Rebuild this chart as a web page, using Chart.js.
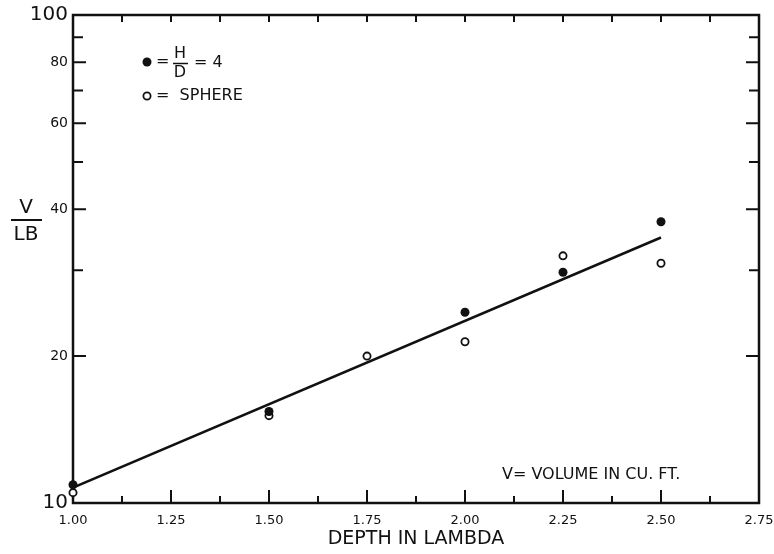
<!DOCTYPE html>
<html>
<head>
<meta charset="utf-8">
<script src="https://cdn.jsdelivr.net/npm/chart.js@4"></script>
<style>
  html, body { margin: 0; padding: 0; background: #fff; }
  #wrap { width: 774px; height: 554px; }
</style>
</head>
<body>
<div id="wrap"><canvas id="chart" width="774" height="554"></canvas></div>
<script>
// Data
const xTicks = [1.00, 1.25, 1.50, 1.75, 2.00, 2.25, 2.50, 2.75];
const xMinorTicks = [1.125, 1.375, 1.625, 1.875, 2.125, 2.375, 2.625];
const yTicks = [10, 20, 40, 60, 80, 100];
const yMinorTicks = [30, 50, 70, 90];

// H/D = 4 (filled dots)
const depthCylinder = [1.00, 1.50, 2.00, 2.25, 2.50];
const ratioCylinder = [10.9, 15.4, 24.6, 29.7, 37.7];

// sphere (open circles)
const depthSphere = [1.00, 1.50, 1.75, 2.00, 2.25, 2.50];
const ratioSphere = [10.5, 15.1, 20.0, 21.4, 32.1, 31.0];

// fitted line
const fitDepth = [1.00, 2.50];
const fitRatio = [10.75, 35.0];

const FONT = '"DejaVu Sans", sans-serif';
const INK = '#111';

function pts(xs, ys) {
    return xs.map((x, i) => ({ x: x, y: ys[i] }));
}

// Frame, inward tick marks and extra texts
const framePlugin = {
    id: 'frame',
    beforeDatasetsDraw(chart) {
        const ctx = chart.ctx;
        const a = chart.chartArea;
        const xs = chart.scales.x;
        const ys = chart.scales.y;
        ctx.save();
        ctx.strokeStyle = INK;
        ctx.lineWidth = 2.5;
        ctx.strokeRect(a.left, a.top, a.right - a.left, a.bottom - a.top);

        ctx.lineWidth = 2;
        ctx.beginPath();
        // bottom / top
        xTicks.forEach(v => {
            const px = xs.getPixelForValue(v);
            ctx.moveTo(px, a.bottom); ctx.lineTo(px, a.bottom - 13);
            ctx.moveTo(px, a.top); ctx.lineTo(px, a.top + 7);
        });
        xMinorTicks.forEach(v => {
            const px = xs.getPixelForValue(v);
            ctx.moveTo(px, a.bottom); ctx.lineTo(px, a.bottom - 7);
            ctx.moveTo(px, a.top); ctx.lineTo(px, a.top + 7);
        });
        // left / right
        yTicks.forEach(v => {
            const py = ys.getPixelForValue(v);
            ctx.moveTo(a.left, py); ctx.lineTo(a.left + 13, py);
            ctx.moveTo(a.right, py); ctx.lineTo(a.right - 13, py);
        });
        yMinorTicks.forEach(v => {
            const py = ys.getPixelForValue(v);
            ctx.moveTo(a.left, py); ctx.lineTo(a.left + 10, py);
            ctx.moveTo(a.right, py); ctx.lineTo(a.right - 10, py);
        });
        ctx.stroke();
        ctx.restore();
    },
    afterDraw(chart) {
        const ctx = chart.ctx;
        ctx.save();
        ctx.fillStyle = INK;
        ctx.strokeStyle = INK;
        ctx.textBaseline = 'middle';

        // y axis title V / LB
        ctx.font = '20px ' + FONT;
        ctx.textAlign = 'center';
        ctx.fillText('V', 26, 208);
        ctx.fillText('LB', 26, 235);
        ctx.lineWidth = 2;
        ctx.beginPath();
        ctx.moveTo(11, 220); ctx.lineTo(42, 220);
        ctx.stroke();

        // legend
        ctx.beginPath();
        ctx.arc(147, 62, 4.5, 0, Math.PI * 2);
        ctx.fill();
        ctx.lineWidth = 1.8;
        ctx.beginPath();
        ctx.arc(147, 96, 3.6, 0, Math.PI * 2);
        ctx.stroke();

        ctx.font = '16px ' + FONT;
        ctx.textAlign = 'left';
        ctx.fillText('=', 156, 62);
        ctx.textAlign = 'center';
        ctx.fillText('H', 180, 54);
        ctx.fillText('D', 180, 73);
        ctx.lineWidth = 1.5;
        ctx.beginPath();
        ctx.moveTo(173, 63.5); ctx.lineTo(188, 63.5);
        ctx.stroke();
        ctx.textAlign = 'left';
        ctx.fillText('= 4', 194, 63);
        ctx.fillText('=  SPHERE', 156, 96);

        // note
        ctx.font = '16px ' + FONT;
        ctx.fillText('V= VOLUME IN CU. FT.', 502, 475);
        ctx.restore();
    }
};

new Chart(document.getElementById('chart'), {
    type: 'scatter',
    data: {
        datasets: [
            {
                label: 'fit',
                type: 'line',
                data: pts(fitDepth, fitRatio),
                borderColor: INK,
                borderWidth: 2.5,
                pointRadius: 0,
                fill: false,
                tension: 0
            },
            {
                label: 'H/D = 4',
                data: pts(depthCylinder, ratioCylinder),
                backgroundColor: INK,
                borderColor: INK,
                borderWidth: 0,
                pointRadius: 4.5,
                clip: false
            },
            {
                label: 'SPHERE',
                data: pts(depthSphere, ratioSphere),
                backgroundColor: '#fff',
                borderColor: INK,
                borderWidth: 1.8,
                pointRadius: 3.6,
                clip: false
            }
        ]
    },
    options: {
        responsive: false,
        animation: false,
        events: [],
        layout: { padding: { top: 15, right: 15, left: 0, bottom: 0 } },
        plugins: {
            legend: { display: false },
            tooltip: { enabled: false }
        },
        scales: {
            x: {
                type: 'linear',
                min: 1.0,
                max: 2.75,
                afterBuildTicks: scale => {
                    scale.ticks = xTicks.map(v => ({ value: v }));
                },
                afterFit: scale => {
                    scale.height = 51;
                    scale.paddingLeft = 0;
                    scale.paddingRight = 0;
                },
                grid: { display: false, drawTicks: false },
                border: { display: false },
                ticks: {
                    color: INK,
                    padding: 10,
                    maxRotation: 0,
                    font: { family: FONT, size: 13 },
                    callback: v => v.toFixed(2)
                },
                title: {
                    display: true,
                    text: 'DEPTH IN LAMBDA',
                    color: INK,
                    font: { family: FONT, size: 19 },
                    padding: { top: 2, bottom: 4 }
                }
            },
            y: {
                type: 'logarithmic',
                min: 10,
                max: 100,
                afterBuildTicks: scale => {
                    scale.ticks = yTicks.map(v => ({ value: v }));
                },
                afterFit: scale => {
                    scale.width = 73;
                    scale.paddingTop = 0;
                    scale.paddingBottom = 0;
                },
                grid: { display: false, drawTicks: false },
                border: { display: false },
                ticks: {
                    color: INK,
                    padding: 5,
                    font: ctx => (ctx.tick && (ctx.tick.value === 10 || ctx.tick.value === 100))
                        ? { family: FONT, size: 20 }
                        : { family: FONT, size: 14 },
                    callback: v => String(v)
                }
            }
        }
    },
    plugins: [framePlugin]
});
</script>
</body>
</html>
